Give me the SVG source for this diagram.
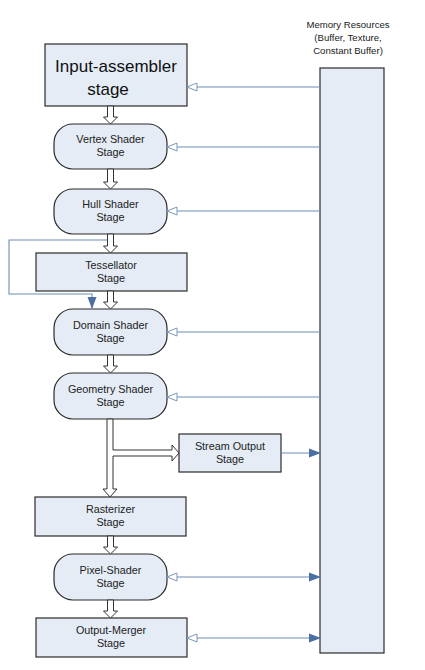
<svg xmlns="http://www.w3.org/2000/svg" width="425" height="670" viewBox="0 0 425 670">
<style>
.box{fill:#e5ecf6;stroke:#2b2b2b;stroke-width:1.2}
.t{font-family:"Liberation Sans",Arial,sans-serif;font-size:10.8px;fill:#222;text-anchor:middle}
.big{font-family:"Liberation Sans",Arial,sans-serif;font-size:17px;fill:#111;text-anchor:middle}
.mem{font-family:"Liberation Sans",Arial,sans-serif;font-size:9.6px;fill:#222;text-anchor:middle}
.ln{fill:none;stroke:#6f8db5;stroke-width:1.1}
.blk{fill:#fff;stroke:#333;stroke-width:1}
</style>
<defs>
<marker id="open" viewBox="0 0 12 10" refX="11" refY="5" markerWidth="12" markerHeight="10" markerUnits="userSpaceOnUse" orient="auto-start-reverse">
<path d="M1,1 L11,5 L1,9 Z" fill="#fff" stroke="#7d97ba" stroke-width="1"/>
</marker>
<marker id="fill" viewBox="0 0 12 10" refX="11" refY="5" markerWidth="12" markerHeight="10" markerUnits="userSpaceOnUse" orient="auto-start-reverse">
<path d="M0,0.5 L12,5 L0,9.5 Z" fill="#4a6fa5"/>
</marker>
</defs>
<rect width="425" height="670" fill="#fff"/>

<g id="memory">
<rect class="box" x="320" y="68" width="64" height="585"/>
<text class="mem" x="348" y="28">Memory Resources</text>
<text class="mem" x="348" y="41">(Buffer, Texture,</text>
<text class="mem" x="348" y="54">Constant Buffer)</text>
</g>

<g id="input-assembler">
<rect class="box" x="45" y="44" width="142" height="62"/>
<text class="big" x="116" y="72">Input-assembler</text>
<text class="big" x="108" y="95">stage</text>
</g>

<g id="vertex-shader">
<rect class="box" x="54" y="124" width="113" height="45" rx="19"/>
<text class="t" x="110.5" y="143">Vertex Shader</text>
<text class="t" x="110.5" y="156">Stage</text>
</g>

<g id="hull-shader">
<rect class="box" x="54" y="189" width="113" height="45" rx="19"/>
<text class="t" x="110.5" y="208">Hull Shader</text>
<text class="t" x="110.5" y="221">Stage</text>
</g>

<g id="tessellator">
<rect class="box" x="36" y="253" width="151" height="38"/>
<text class="t" x="111" y="268.5">Tessellator</text>
<text class="t" x="111" y="281.5">Stage</text>
</g>

<g id="domain-shader">
<rect class="box" x="54" y="309" width="113" height="46" rx="19"/>
<text class="t" x="110.5" y="328.5">Domain Shader</text>
<text class="t" x="110.5" y="341.5">Stage</text>
</g>

<g id="geometry-shader">
<rect class="box" x="54" y="373" width="113" height="46" rx="19"/>
<text class="t" x="110.5" y="392.5">Geometry Shader</text>
<text class="t" x="110.5" y="405.5">Stage</text>
</g>

<g id="stream-output">
<rect class="box" x="179" y="434" width="102" height="38"/>
<text class="t" x="230" y="449.5">Stream Output</text>
<text class="t" x="230" y="462.5">Stage</text>
</g>

<g id="rasterizer">
<rect class="box" x="35" y="497" width="151" height="39"/>
<text class="t" x="110.5" y="513">Rasterizer</text>
<text class="t" x="110.5" y="526">Stage</text>
</g>

<g id="pixel-shader">
<rect class="box" x="54" y="554" width="113" height="46" rx="19"/>
<text class="t" x="110.5" y="573.5">Pixel-Shader</text>
<text class="t" x="110.5" y="586.5">Stage</text>
</g>

<g id="output-merger">
<rect class="box" x="36" y="618" width="151" height="39"/>
<text class="t" x="111" y="634">Output-Merger</text>
<text class="t" x="111" y="647">Stage</text>
</g>

<g id="connectors">
<path class="blk" d="M107.5,106 V117 H103.5 L110.5,124 L117.5,117 H113.5 V106 Z"/>
<path class="blk" d="M107.5,169 V182 H103.5 L110.5,189 L117.5,182 H113.5 V169 Z"/>
<path class="blk" d="M107.5,234 V246 H103.5 L110.5,253 L117.5,246 H113.5 V234 Z"/>
<path class="blk" d="M107.5,291 V302 H103.5 L110.5,309 L117.5,302 H113.5 V291 Z"/>
<path class="blk" d="M107.5,355 V366 H103.5 L110.5,373 L117.5,366 H113.5 V355 Z"/>
<path class="blk" d="M107,419 V489 H103 L110,497 L117,489 H113 V456 H172 V461 L179,453 L172,445 V450 H113 V419 Z"/>
<path class="blk" d="M107.5,536 V547 H103.5 L110.5,554 L117.5,547 H113.5 V536 Z"/>
<path class="blk" d="M107.5,600 V611 H103.5 L110.5,618 L117.5,611 H113.5 V600 Z"/>

<path class="ln" d="M107,240 H9 V294 H92 V308" marker-end="url(#fill)"/>

<line class="ln" x1="320" y1="87" x2="187" y2="87" marker-end="url(#open)"/>
<line class="ln" x1="320" y1="147" x2="167" y2="147" marker-end="url(#open)"/>
<line class="ln" x1="320" y1="211" x2="167" y2="211" marker-end="url(#open)"/>
<line class="ln" x1="320" y1="332" x2="167" y2="332" marker-end="url(#open)"/>
<line class="ln" x1="320" y1="397" x2="167" y2="397" marker-end="url(#open)"/>
<line class="ln" x1="281" y1="453" x2="320" y2="453" marker-end="url(#fill)"/>
<line class="ln" x1="167" y1="577" x2="320" y2="577" marker-start="url(#open)" marker-end="url(#fill)"/>
<line class="ln" x1="187" y1="638" x2="320" y2="638" marker-start="url(#open)" marker-end="url(#fill)"/>
</g>
</svg>
